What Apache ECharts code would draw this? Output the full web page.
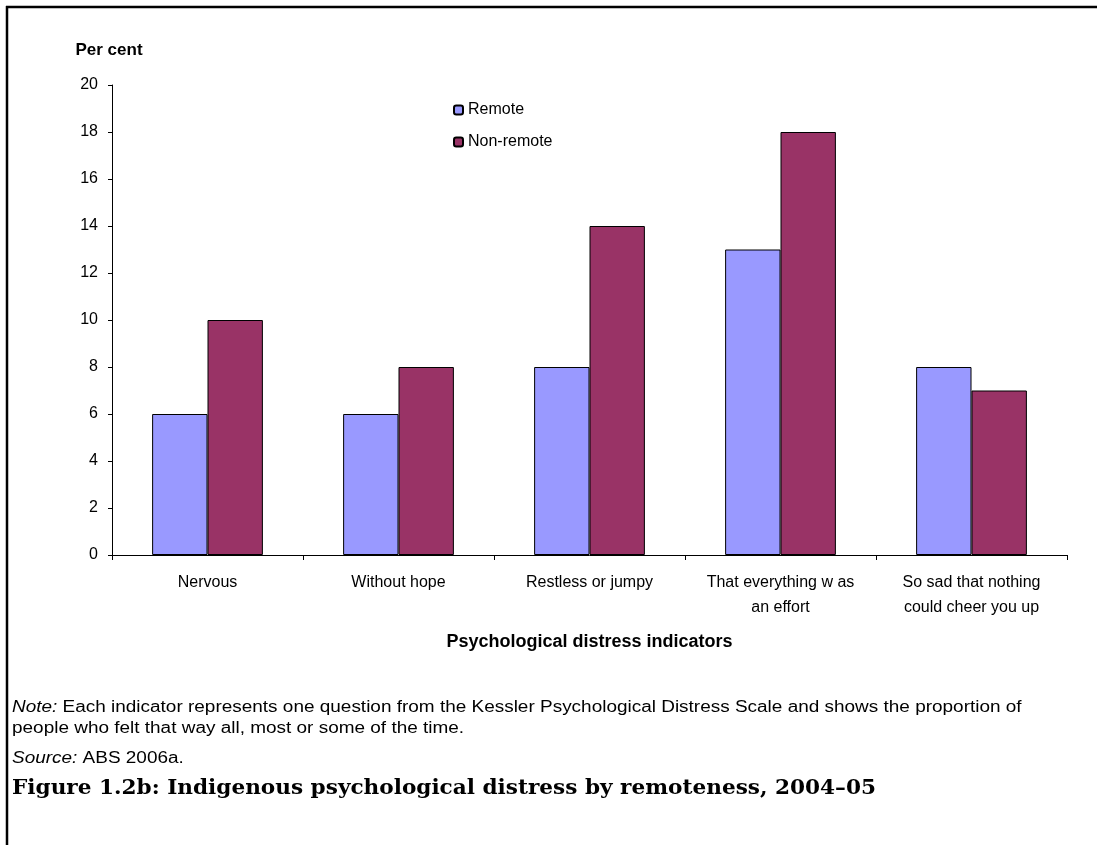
<!DOCTYPE html>
<html>
<head>
<meta charset="utf-8">
<script src="https://cdn.jsdelivr.net/npm/echarts@6/dist/echarts.min.js"></script>
<style>
html,body{margin:0;padding:0;background:#fff;}
#chart{width:1097px;height:845px;}
</style>
</head>
<body>
<div id="chart"></div>
<script>
const categories = ['Nervous', 'Without hope', 'Restless or jumpy', 'That everything w as\nan effort', 'So sad that nothing\ncould cheer you up'];
const remote = [6, 6, 8, 13, 8];
const nonRemote = [10, 8, 14, 18, 7];
const yTicks = {min: 0, max: 20, interval: 2};

const chart = echarts.init(document.getElementById('chart'), null, {renderer: 'canvas'});
const sans = 'Liberation Sans, Arial, sans-serif';
chart.setOption({
  animation: false,
  backgroundColor: '#fff',
  grid: {left: 112, right: 30, top: 85, bottom: 290, containLabel: false},
  legend: {
    orient: 'vertical', left: 448, top: 97, itemWidth: 9, itemHeight: 9, itemGap: 16,
    textStyle: {fontFamily: sans, fontSize: 16, color: '#000'},
    data: ['Remote', 'Non-remote']
  },
  xAxis: {
    type: 'category', data: categories,
    axisLine: {lineStyle: {color: '#000', width: 1}},
    axisTick: {show: true, length: 5, lineStyle: {color: '#000'}},
    axisLabel: {fontFamily: sans, fontSize: 16, color: '#000', margin: 15, lineHeight: 25, interval: 0},
    name: 'Psychological distress indicators', nameLocation: 'middle', nameGap: 78,
    nameTextStyle: {fontFamily: sans, fontSize: 18, fontWeight: 'bold', color: '#000'}
  },
  yAxis: {
    type: 'value', min: yTicks.min, max: yTicks.max, interval: yTicks.interval,
    axisLine: {show: true, lineStyle: {color: '#000', width: 1}},
    axisTick: {show: true, length: 4, lineStyle: {color: '#000'}},
    splitLine: {show: false},
    axisLabel: {fontFamily: sans, fontSize: 16, color: '#000', margin: 14},
    name: 'Per cent', nameLocation: 'end', nameGap: 26,
    nameTextStyle: {fontFamily: sans, fontSize: 17, fontWeight: 'bold', color: '#000', align: 'center', padding: [0, 0, 0, -6]}
  },
  series: [
    {name: 'Remote', type: 'bar', data: remote, barGap: '0%', barCategoryGap: '42%',
     itemStyle: {color: '#9999FF', borderColor: '#000', borderWidth: 1}},
    {name: 'Non-remote', type: 'bar', data: nonRemote, barGap: '0%', barCategoryGap: '42%',
     itemStyle: {color: '#993366', borderColor: '#000', borderWidth: 1}}
  ],
  graphic: [
    {type: 'line', shape: {x1: 6, y1: 7, x2: 1097, y2: 7}, style: {stroke: '#000', lineWidth: 2.5}},
    {type: 'line', shape: {x1: 7, y1: 6, x2: 7, y2: 845}, style: {stroke: '#000', lineWidth: 2.5}},
    {type: 'text', x: 12, y: 700, scaleX: 1.185, style: {rich: {i: {fontStyle: 'italic', fontFamily: sans, fontSize: 16, fill: '#000'}, n: {fontFamily: sans, fontSize: 16, fill: '#000'}}, text: '{i|Note:}{n| Each indicator represents one question from the Kessler Psychological Distress Scale and shows the proportion of}'}},
    {type: 'text', x: 12, y: 721, scaleX: 1.185, style: {text: 'people who felt that way all, most or some of the time.', fontFamily: sans, fontSize: 16, fill: '#000'}},
    {type: 'text', x: 12, y: 751, scaleX: 1.185, style: {rich: {i: {fontStyle: 'italic', fontFamily: sans, fontSize: 16, fill: '#000'}, n: {fontFamily: sans, fontSize: 16, fill: '#000'}}, text: '{i|Source:}{n| ABS 2006a.}'}},
    {type: 'text', x: 12, y: 779, scaleX: 1.08, style: {text: 'Figure 1.2b: Indigenous psychological distress by remoteness, 2004–05', fontFamily: 'DejaVu Serif, serif', fontWeight: 'bold', fontSize: 20, fill: '#000'}}
  ]
});
</script>
</body>
</html>
